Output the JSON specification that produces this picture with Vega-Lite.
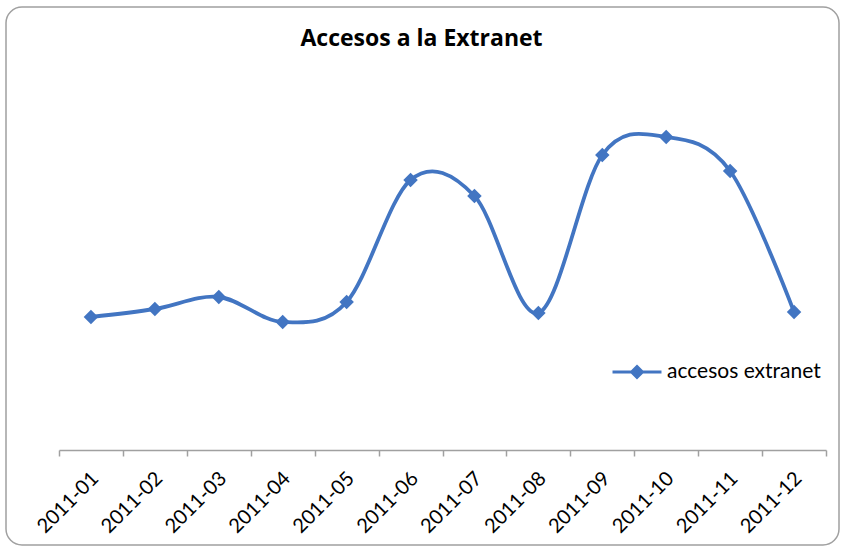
{
  "$schema": "https://vega.github.io/schema/vega-lite/v6.json",
  "autosize": "none",
  "width": 833,
  "height": 538,
  "padding": {"left": 6, "top": 7, "right": 5, "bottom": 6},
  "background": "white",
  "config": {
    "view": {"stroke": "#a0a0a0", "strokeWidth": 1.5, "cornerRadius": 16},
    "font": "Lato"
  },
  "title": {
    "text": "Accesos a la Extranet",
    "font": "Open Sans",
    "fontSize": 23,
    "fontWeight": "bold",
    "color": "#000000",
    "anchor": "middle",
    "dx": -1,
    "offset": -44,
    "orient": "top"
  },
  "data": {
    "values": [
      {"mes": "2011-01", "accesos": 133},
      {"mes": "2011-02", "accesos": 141},
      {"mes": "2011-03", "accesos": 153},
      {"mes": "2011-04", "accesos": 128},
      {"mes": "2011-05", "accesos": 148},
      {"mes": "2011-06", "accesos": 270},
      {"mes": "2011-07", "accesos": 254},
      {"mes": "2011-08", "accesos": 137},
      {"mes": "2011-09", "accesos": 295},
      {"mes": "2011-10", "accesos": 313},
      {"mes": "2011-11", "accesos": 279},
      {"mes": "2011-12", "accesos": 138}
    ]
  },
  "mark": {
    "type": "line",
    "interpolate": "cardinal",
    "tension": 0,
    "strokeWidth": 3.8,
    "point": {"shape": "diamond", "size": 210, "filled": true, "opacity": 1}
  },
  "encoding": {
    "x": {
      "field": "mes",
      "type": "ordinal",
      "scale": {"type": "band", "range": [53, 820], "paddingInner": 0, "paddingOuter": 0},
      "axis": {
        "title": null,
        "offset": -95,
        "tickBand": "extent",
        "domainColor": "#a0a0a0",
        "domainWidth": 1.5,
        "tickColor": "#a0a0a0",
        "tickWidth": 1.5,
        "tickSize": 6,
        "labelAngle": -45,
        "labelFont": "Lato",
        "labelFontSize": 20,
        "labelColor": "#000000",
        "labelPadding": 12,
        "labelOffset": -3
      }
    },
    "y": {
      "field": "accesos",
      "type": "quantitative",
      "scale": {"domain": [0, 380], "range": [443, 63], "zero": true},
      "axis": null
    },
    "color": {
      "datum": "accesos extranet",
      "scale": {"range": ["#4275C2"]},
      "legend": {
        "title": null,
        "orient": "none",
        "legendX": 605,
        "legendY": 339,
        "symbolType": "M-1,0H1M0,-0.22L0.22,0L0,0.22L-0.22,0Z",
        "symbolSize": 2400,
        "symbolStrokeWidth": 3,
        "symbolFillColor": "#4275C2",
        "labelFont": "Lato",
        "labelFontSize": 21,
        "labelColor": "#000000",
        "labelOffset": 4
      }
    }
  }
}
